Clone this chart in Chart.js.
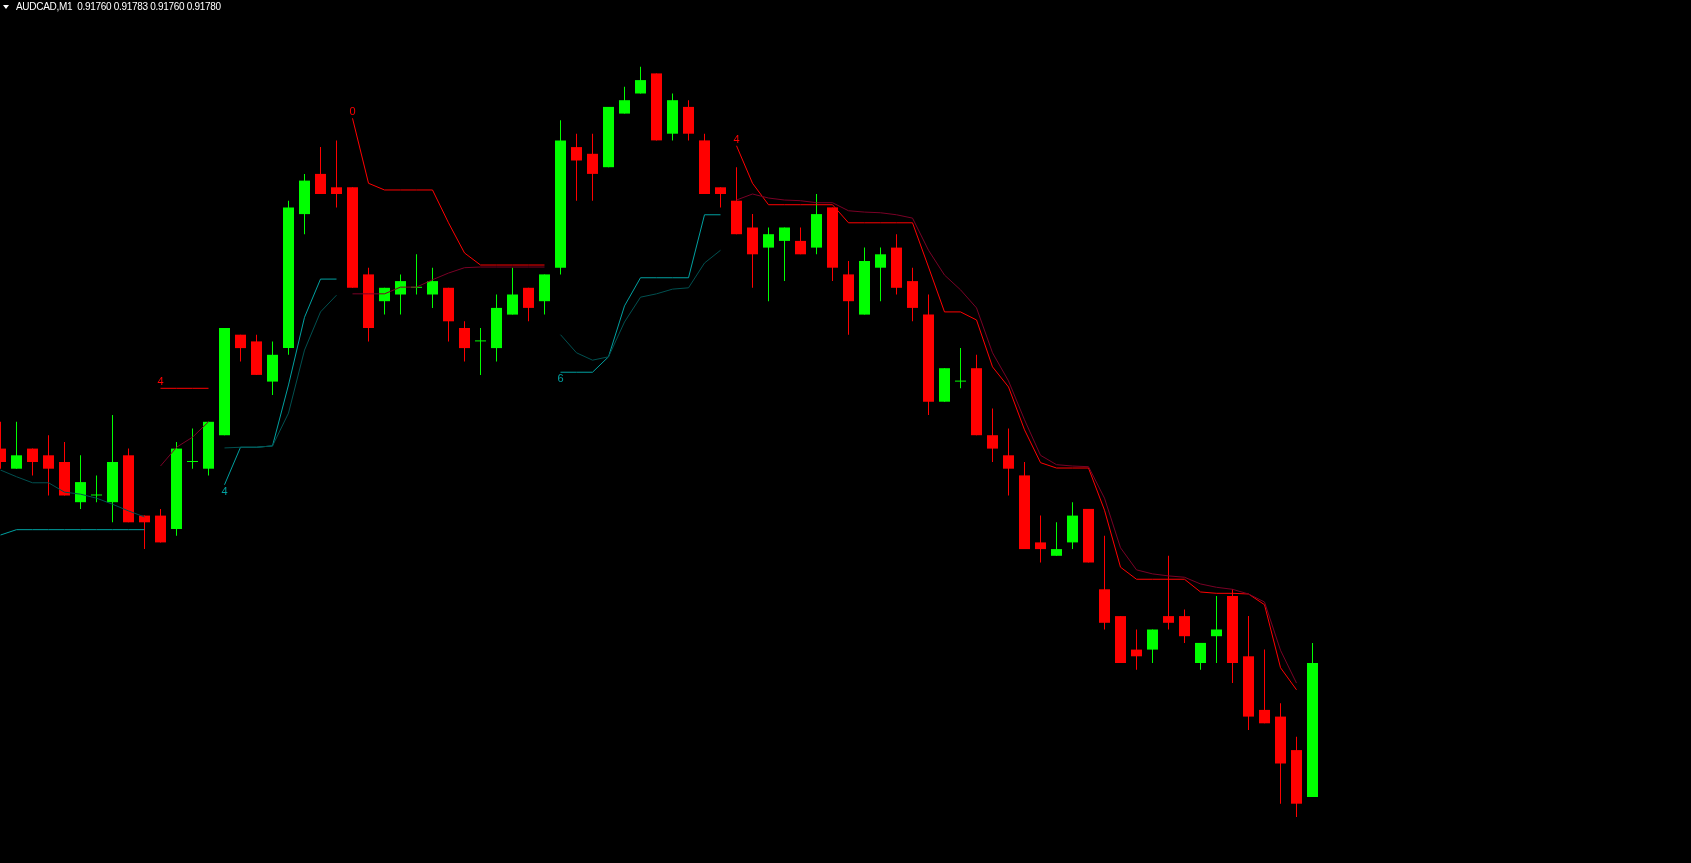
<!DOCTYPE html>
<html>
<head>
<meta charset="utf-8">
<script src="https://cdn.jsdelivr.net/npm/chart.js@4.4.0/dist/chart.umd.min.js"></script>
<style>
  html, body { margin: 0; padding: 0; background: #000; overflow: hidden; }
  #wrap { position: relative; width: 1691px; height: 863px; }
  #chart { display: block; }
  #tri { position: absolute; left: 3px; top: 5px; width: 0; height: 0;
         border-left: 3px solid transparent; border-right: 3px solid transparent; border-top: 4px solid #fff; }
  #title { position: absolute; left: 16px; top: 1px; font: 10px "Liberation Sans", Arial, sans-serif;
           color: #fff; white-space: pre; letter-spacing: -0.3px; }
</style>
</head>
<body>
<div id="wrap">
  <canvas id="chart" width="1691" height="863"></canvas>
  <div id="tri"></div>
  <div id="title"></div>
</div>
<script>
//! =============== Data (AUDCAD, M1) =============== //
const symbol = 'AUDCAD';
const period = 'M1';

const opens = [
  0.91812, 0.91809, 0.91812, 0.91811, 0.91810, 0.91804, 0.91805, 0.91804, 0.91811, 0.91802,
  0.91802, 0.91800, 0.91810, 0.91809, 0.91814, 0.91829, 0.91828, 0.91822, 0.91827, 0.91847,
  0.91853, 0.91851, 0.91851, 0.91838, 0.91834, 0.91835, 0.91836, 0.91835, 0.91836, 0.91830,
  0.91828, 0.91827, 0.91832, 0.91836, 0.91834, 0.91839, 0.91857, 0.91856, 0.91854, 0.91862,
  0.91865, 0.91868, 0.91859, 0.91863, 0.91858, 0.91851, 0.91849, 0.91845, 0.91842, 0.91843,
  0.91843, 0.91842, 0.91848, 0.91838, 0.91832, 0.91839, 0.91842, 0.91837, 0.91832, 0.91819,
  0.91822, 0.91824, 0.91814, 0.91811, 0.91808, 0.91798, 0.91796, 0.91798, 0.91803, 0.91791,
  0.91787, 0.91782, 0.91782, 0.91787, 0.91787, 0.91780, 0.91784, 0.91790, 0.91781, 0.91773,
  0.91772, 0.91767, 0.91760
];
const highs = [
  0.91816, 0.91816, 0.91812, 0.91814, 0.91813, 0.91811, 0.91808, 0.91817, 0.91812, 0.91802,
  0.91803, 0.91813, 0.91815, 0.91816, 0.91830, 0.91829, 0.91829, 0.91828, 0.91849, 0.91853,
  0.91857, 0.91858, 0.91851, 0.91839, 0.91836, 0.91838, 0.91841, 0.91839, 0.91836, 0.91831,
  0.91830, 0.91835, 0.91839, 0.91836, 0.91838, 0.91861, 0.91859, 0.91859, 0.91863, 0.91866,
  0.91869, 0.91868, 0.91865, 0.91864, 0.91859, 0.91851, 0.91854, 0.91847, 0.91845, 0.91845,
  0.91845, 0.91850, 0.91848, 0.91840, 0.91842, 0.91842, 0.91844, 0.91839, 0.91835, 0.91824,
  0.91827, 0.91826, 0.91818, 0.91815, 0.91810, 0.91802, 0.91801, 0.91804, 0.91803, 0.91799,
  0.91787, 0.91785, 0.91785, 0.91796, 0.91788, 0.91783, 0.91790, 0.91791, 0.91787, 0.91782,
  0.91774, 0.91769, 0.91783
];
const lows = [
  0.91809, 0.91809, 0.91808, 0.91805, 0.91805, 0.91803, 0.91804, 0.91801, 0.91801, 0.91797,
  0.91798, 0.91799, 0.91809, 0.91808, 0.91814, 0.91825, 0.91823, 0.91820, 0.91826, 0.91844,
  0.91850, 0.91848, 0.91836, 0.91828, 0.91832, 0.91832, 0.91835, 0.91833, 0.91828, 0.91825,
  0.91823, 0.91825, 0.91832, 0.91831, 0.91832, 0.91838, 0.91849, 0.91849, 0.91854, 0.91862,
  0.91865, 0.91858, 0.91858, 0.91858, 0.91850, 0.91848, 0.91844, 0.91836, 0.91834, 0.91837,
  0.91841, 0.91841, 0.91837, 0.91829, 0.91832, 0.91834, 0.91835, 0.91831, 0.91817, 0.91819,
  0.91821, 0.91814, 0.91810, 0.91805, 0.91797, 0.91795, 0.91796, 0.91797, 0.91795, 0.91785,
  0.91780, 0.91779, 0.91780, 0.91785, 0.91783, 0.91779, 0.91780, 0.91777, 0.91770, 0.91771,
  0.91759, 0.91757, 0.91760
];
const closes = [
  0.91810, 0.91811, 0.91810, 0.91809, 0.91805, 0.91807, 0.91805, 0.91810, 0.91801, 0.91801,
  0.91798, 0.91812, 0.91810, 0.91816, 0.91830, 0.91827, 0.91823, 0.91826, 0.91848, 0.91852,
  0.91850, 0.91850, 0.91836, 0.91830, 0.91836, 0.91837, 0.91836, 0.91837, 0.91831, 0.91827,
  0.91828, 0.91833, 0.91835, 0.91833, 0.91838, 0.91858, 0.91855, 0.91853, 0.91863, 0.91864,
  0.91867, 0.91858, 0.91864, 0.91859, 0.91850, 0.91850, 0.91844, 0.91841, 0.91844, 0.91845,
  0.91841, 0.91847, 0.91839, 0.91834, 0.91840, 0.91841, 0.91836, 0.91833, 0.91819, 0.91824,
  0.91822, 0.91814, 0.91812, 0.91809, 0.91797, 0.91797, 0.91797, 0.91802, 0.91795, 0.91786,
  0.91780, 0.91781, 0.91785, 0.91786, 0.91784, 0.91783, 0.91785, 0.91780, 0.91772, 0.91771,
  0.91765, 0.91759, 0.91780
];

// indicator buffers (null = no value on that bar)
const tealFast = [
  0.917991, 0.917999, 0.917999, 0.917999, 0.917999, 0.917999, 0.917999, 0.917999, 0.917999, 0.917999,
  null, null, null, null, 0.918066, 0.918122, 0.918122, 0.918124, 0.918215, 0.918316,
  0.918373, 0.918373, null, null, null, null, null, null, null, null,
  null, null, null, null, null, 0.918234, 0.918234, 0.918234, 0.918257, 0.918333,
  0.918375, 0.918375, 0.918375, 0.918375, 0.918469, 0.918469, null, null, null, null,
  null, null, null, null, null, null, null, null, null, null,
  null, null, null, null, null, null, null, null, null, null,
  null, null, null, null, null, null, null, null, null, null,
  null, null, null
];
const tealSlow = [
  0.918088, 0.918078, 0.918069, 0.918069, 0.918055, 0.918052, 0.918046, 0.918037, 0.918027, 0.918018,
  null, null, null, null, 0.918121, 0.918122, 0.918122, 0.918124, 0.918173, 0.918267,
  0.918324, 0.918349, null, null, null, null, null, null, null, null,
  null, null, null, null, null, 0.918290, 0.918263, 0.918252, 0.918257, 0.918309,
  0.918346, 0.918351, 0.918358, 0.918360, 0.918397, 0.918416, null, null, null, null,
  null, null, null, null, null, null, null, null, null, null,
  null, null, null, null, null, null, null, null, null, null,
  null, null, null, null, null, null, null, null, null, null,
  null, null, null
];
const redFast = [
  null, null, null, null, null, null, null, null, null, null,
  0.918210, 0.918210, 0.918210, 0.918210, null, null, null, null, null, null,
  null, null, 0.918613, 0.918516, 0.918506, 0.918506, 0.918506, 0.918506, 0.918457, 0.918412,
  0.918394, 0.918394, 0.918394, 0.918394, 0.918394, null, null, null, null, null,
  null, null, null, null, null, null, 0.918572, 0.918516, 0.918484, 0.918484,
  0.918484, 0.918484, 0.918484, 0.918457, 0.918457, 0.918457, 0.918457, 0.918457, 0.918391, 0.918324,
  0.918324, 0.918312, 0.918242, 0.918212, 0.918148, 0.918099, 0.918091, 0.918091, 0.918091, 0.918028,
  0.917943, 0.917925, 0.917925, 0.917925, 0.917925, 0.917906, 0.917904, 0.917904, 0.917903, 0.917887,
  0.917793, 0.917760, null
];
const redSlow = [
  null, null, null, null, null, null, null, null, null, null,
  0.918094, 0.918122, 0.918137, 0.918160, null, null, null, null, null, null,
  null, null, 0.918351, 0.918351, 0.918351, 0.918361, 0.918361, 0.918372, 0.918382, 0.918390,
  0.918391, 0.918391, 0.918391, 0.918391, 0.918391, null, null, null, null, null,
  null, null, null, null, null, null, 0.918491, 0.918500, 0.918494, 0.918491,
  0.918490, 0.918487, 0.918487, 0.918475, 0.918473, 0.918472, 0.918469, 0.918464, 0.918416, 0.918379,
  0.918357, 0.918330, 0.918263, 0.918221, 0.918163, 0.918110, 0.918096, 0.918094, 0.918093, 0.918046,
  0.917972, 0.917939, 0.917933, 0.917930, 0.917928, 0.917918, 0.917913, 0.917910, 0.917903, 0.917891,
  0.917819, 0.917770, null
];

// small counters printed where a line starts
const labelBars = [10, 22, 14, 35, 46];
const labelTexts = ['4', '0', '4', '6', '4'];
const labelLines = ['red', 'red', 'teal', 'teal', 'red'];


//! =============== Title =============== //
const last = opens.length - 1;
document.getElementById('title').textContent =
  symbol + ',' + period + '  ' +
  [opens[last], highs[last], lows[last], closes[last]].map(v => v.toFixed(5)).join(' ');


//! =============== Chart.JS =============== //
const GREEN = '#00ff00';
const RED = '#ff0000';
const TEAL = '#00a0a0';
const TEAL_DARK = '#005050';
const RED_DARK = '#7a0026';

const idx = opens.map((_, i) => i);
const candleColors = idx.map(i => closes[i] >= opens[i] ? GREEN : RED);

const lineSet = (values, color) => ({
  type: 'line',
  data: idx.map(i => ({ x: i, y: values[i] })),
  borderColor: color,
  borderWidth: 1,
  pointRadius: 0,
  tension: 0,
  spanGaps: false,
  order: 0
});

const lineLabels = {
  id: 'lineLabels',
  afterDatasetsDraw(chart) {
    const { ctx, scales: { x, y } } = chart;
    ctx.save();
    ctx.font = '11px "Liberation Sans", Arial, sans-serif';
    ctx.textAlign = 'center';
    ctx.textBaseline = 'alphabetic';
    labelBars.forEach((bar, k) => {
      const isRed = labelLines[k] === 'red';
      const px = x.getPixelForValue(bar);
      const py = y.getPixelForValue(isRed ? redFast[bar] : tealFast[bar]);
      ctx.fillStyle = isRed ? RED : TEAL;
      ctx.fillText(labelTexts[k], px, isRed ? py - 3 : py + 10);
    });
    ctx.restore();
  }
};

// 16 px per bar, price 0.91760 sits at y = 797, 6.7 px per point
const xMin = -0.03125;
const xMax = xMin + 1691 / 16;
const yMin = 0.91760 - (863 - 797) / 6.7 * 0.00001;
const yMax = 0.91760 + 797 / 6.7 * 0.00001;

const ctx = document.getElementById('chart').getContext('2d');

new Chart(ctx, {
  type: 'bar',
  data: {
    datasets: [
      lineSet(tealSlow, TEAL_DARK),
      lineSet(redSlow, RED_DARK),
      lineSet(tealFast, TEAL),
      lineSet(redFast, RED),
      {
        data: idx.map(i => ({ x: i, y: [opens[i], closes[i]] })),
        backgroundColor: candleColors,
        grouped: false,
        barPercentage: 1,
        categoryPercentage: 1,
        maxBarThickness: 11,
        minBarLength: 1,
        inflateAmount: 0,
        borderWidth: 0,
        order: 1
      },
      {
        data: idx.map(i => ({ x: i, y: [lows[i], highs[i]] })),
        backgroundColor: candleColors,
        grouped: false,
        barPercentage: 1,
        categoryPercentage: 1,
        maxBarThickness: 1,
        inflateAmount: 0,
        borderWidth: 0,
        order: 2
      }
    ]
  },
  options: {
    responsive: false,
    animation: false,
    devicePixelRatio: 1,
    layout: { padding: 0 },
    plugins: {
      legend: { display: false },
      tooltip: { enabled: false }
    },
    scales: {
      x: { type: 'linear', display: false, min: xMin, max: xMax, offset: false },
      y: { type: 'linear', display: false, min: yMin, max: yMax, beginAtZero: false }
    }
  },
  plugins: [lineLabels]
});
</script>
</body>
</html>
